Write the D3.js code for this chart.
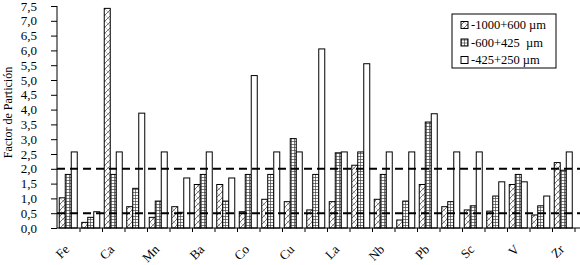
<!DOCTYPE html>
<html>
<head>
<meta charset="utf-8">
<script src="https://cdn.jsdelivr.net/npm/d3@7"></script>
<style>
  body { margin: 0; background: #fff; }
  #wrap { position: relative; width: 580px; height: 265px; }
  svg { display: block; font-family: "Liberation Serif", "Times New Roman", serif; }
  .xlab {
    position: absolute; white-space: nowrap; line-height: 1;
    font-family: "Liberation Serif", serif; font-size: 13px; color: #000;
    transform-origin: 100% 50%;
    transform: translate(-100%, -50%) rotate(-45deg);
  }
</style>
</head>
<body>
<div id="wrap"><svg width="580" height="265"></svg></div>
<script>
// element labels (Excel only printed every other one)
const labels = ['Fe','','Ca','','Mn','','Ba','','Co','','Cu','','La','','Nb','','Pb','','Sc','','V','','Zr'];

// partition factor per size fraction
const coarse = [1.02,0.19,7.42,0.72,0.36,0.72,1.47,1.47,0.55,0.97,0.89,0.61,0.89,2.12,0.97,0.27,1.47,0.72,0.61,0.57,1.47,0.44,2.21];
const medium = [1.81,0.36,1.81,1.34,0.91,0.53,1.81,0.91,1.81,1.81,3.02,1.81,2.54,2.57,1.81,0.91,3.58,0.89,0.75,1.08,1.81,0.75,1.95];
const fine   = [2.57,0.55,2.57,3.88,2.57,1.69,2.57,1.69,5.15,2.57,2.57,6.05,2.57,5.55,2.57,2.57,3.86,2.57,2.57,1.56,1.56,1.08,2.57];

const seriesNames = ['-1000+600 \u00b5m', '-600+425  \u00b5m', '-425+250 \u00b5m'];
const yTicks = d3.range(0, 7.51, 0.5);
const refLines = [2.0, 0.5];

const W = 580, H = 265;
const mLeft = 57, mTop = 6, mBottom = 228, step = 22.5;
const n = labels.length;

const svg = d3.select('svg');

// patterns
const defs = svg.append('defs');
let p1 = defs.append('pattern').attr('id', 'hatch').attr('patternUnits', 'userSpaceOnUse')
  .attr('width', 6).attr('height', 6);
p1.append('rect').attr('width', 6).attr('height', 6).attr('fill', '#fff');
p1.append('path').attr('d', 'M0,6 L6,0 M-1,1 L1,-1 M5,7 L7,5').attr('stroke', '#333').attr('stroke-width', 0.7);
p1.append('path').attr('d', 'M0,0 L6,6').attr('stroke', '#888').attr('stroke-width', 0.5);

let p2 = defs.append('pattern').attr('id', 'grid').attr('patternUnits', 'userSpaceOnUse')
  .attr('width', 3).attr('height', 3);
p2.append('rect').attr('width', 3).attr('height', 3).attr('fill', '#fff');
p2.append('path').attr('d', 'M0,0.5 H3 M0.5,0 V3').attr('stroke', '#444').attr('stroke-width', 0.7);

const fills = ['url(#hatch)', 'url(#grid)', '#fff'];

const x = d3.scaleBand().domain(d3.range(n)).range([mLeft, mLeft + n * step]);
const xs = d3.scaleBand().domain([0, 1, 2]).range([0, step]).paddingOuter(0.375);
const xb = d3.scaleLinear().domain([0, n]).range([mLeft, mLeft + n * step]);
const y = d3.scaleLinear().domain([0, 7.5]).range([mBottom, mTop]);

const data = [];
for (let i = 0; i < n; i++) {
  [coarse, medium, fine].forEach((s, j) => data.push({ i: i, s: j, v: s[i] }));
}

svg.append('g').selectAll('rect').data(data).enter().append('rect')
  .attr('x', d => x(d.i) + xs(d.s))
  .attr('y', d => y(d.v))
  .attr('width', xs.bandwidth())
  .attr('height', d => y(0) - y(d.v))
  .attr('fill', d => fills[d.s])
  .attr('stroke', '#000').attr('stroke-width', 1);

// reference lines
svg.append('g').selectAll('line').data(refLines).enter().append('line')
  .attr('x1', mLeft).attr('x2', W)
  .attr('y1', d => y(d)).attr('y2', d => y(d))
  .attr('stroke', '#000').attr('stroke-width', 2).attr('stroke-dasharray', '8,5');

// y axis
const ya = svg.append('g').attr('transform', `translate(${mLeft},0)`)
  .call(d3.axisLeft(y).tickValues(yTicks).tickSize(6).tickPadding(14)
    .tickFormat(d => d.toFixed(1).replace('.', ',')));
ya.select('.domain').attr('d', `M0,${y(7.5)}V${y(0)}`);
ya.selectAll('text').attr('font-size', 13).attr('font-family', 'Liberation Serif').attr('fill', '#000');

// x axis: line + ticks at boundaries
const xa = svg.append('g').attr('transform', `translate(0,${mBottom})`)
  .call(d3.axisBottom(xb).tickValues(d3.range(1, n + 1)).tickSize(4).tickFormat(''));
xa.select('.domain').attr('d', `M${mLeft},0H${W}`);

// x labels, rotated 45 deg (html spans over the svg)
d3.select('#wrap').selectAll('span.xlab').data(labels.map((d, i) => ({ t: d, i: i })).filter(d => d.t))
  .enter().append('span').attr('class', 'xlab')
  .style('left', d => (x(d.i) + step / 2 - 1) + 'px')
  .style('top', (mBottom + 19) + 'px')
  .text(d => d.t);

// y title
svg.append('text')
  .attr('transform', `translate(12,${(62 + 163) / 2}) rotate(-90)`)
  .attr('text-anchor', 'middle').attr('font-size', 12)
  .text('Factor de Partición');

// legend
const lg = svg.append('g').attr('transform', 'translate(452,14)');
lg.append('rect').attr('width', 104).attr('height', 54).attr('fill', '#fff').attr('stroke', '#000');
const li = lg.selectAll('g.item').data(seriesNames).enter().append('g')
  .attr('transform', (d, i) => `translate(9,${11 + i * 17.5})`);
li.append('rect').attr('x', 0).attr('y', -3.5).attr('width', 7).attr('height', 7)
  .attr('fill', (d, i) => fills[i]).attr('stroke', '#000');
li.append('text').attr('x', 10).attr('dy', '0.35em').attr('font-size', 12.5)
  .style('white-space', 'pre').text(d => d);
</script>
</body>
</html>
